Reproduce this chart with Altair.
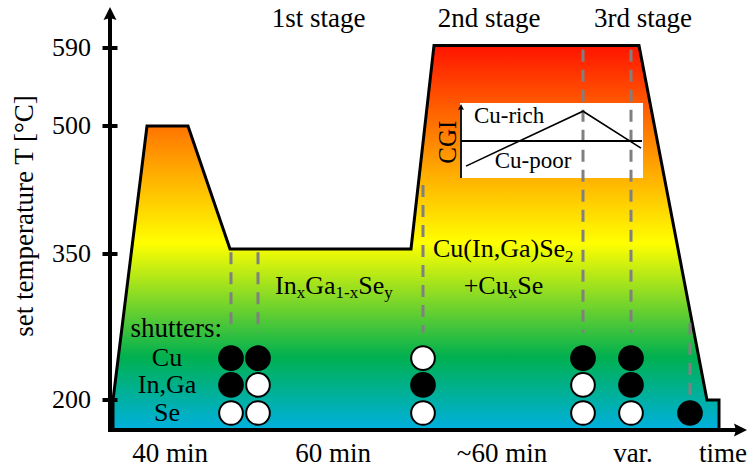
import altair as alt
import pandas as pd

FONT = "Liberation Serif"

# ---------------- data ----------------
# temperature profile (schematic time units, set temperature in °C)
profile_t = [3, 37, 78, 120, 301, 324, 529, 597, 609]
profile_T = [200, 500, 500, 356, 356, 593, 593, 200, 200]
tick_T = [200, 350, 500, 590]
y_title = "set temperature T [°C]"

# shutter switching events (dashed lines)
event_t = [121, 148, 313, 473, 521, 580]
event_top_T = [352, 352, 431, 588, 588, 279]
event_bot_T = [269, 269, 269, 269, 269, 200]

# shutter states per event: 1 = black, 0 = white, None = not drawn
shutter_names = ["Cu", "In,Ga", "Se"]
shutter_row_T = [243, 215.5, 187]
cu_states = [1, 1, 0, 1, 1, None]
inga_states = [1, 0, 1, 0, 1, None]
se_states = [0, 0, 0, 0, 0, 1]

stage_labels = ["1st stage", "2nd stage", "3rd stage"]
stage_t = [208.5, 379, 533]

time_labels = ["40 min", "60 min", "~60 min", "var.", "time"]
time_label_t = [60, 223, 392, 523, 613]

# CGI inset curve
cgi_t = [356, 473, 531]
cgi_T = [453, 517, 474]

# ---------------- scales ----------------
Y_DOMAIN = [170, 200, 350, 500, 590, 645]
Y_RANGE = [430, 400, 254, 126, 48, 0]
yscale = alt.Scale(domain=Y_DOMAIN, range=Y_RANGE, nice=False, zero=False)
xscale = alt.Scale(domain=[0, 637], nice=False, zero=False)


def X(f):
    return alt.X(f, type="quantitative", scale=xscale, axis=None)


def Y(f):
    return alt.Y(f, type="quantitative", scale=yscale, axis=None)


# ---------------- layers ----------------
prof = pd.DataFrame({"t": profile_t, "T": profile_T})
grad = alt.Gradient(
    gradient="linear", x1=0, y1=0, x2=0, y2=1,
    stops=[
        alt.GradientStop(offset=0, color="#ff1400"),
        alt.GradientStop(offset=0.514, color="#ffff00"),
        alt.GradientStop(offset=0.81, color="#00b050"),
        alt.GradientStop(offset=1, color="#00b0e0"),
    ],
)
area = alt.Chart(prof).mark_area(
    fill=grad, stroke="black", strokeWidth=3, opacity=1, strokeJoin="miter"
).encode(x=X("t"), y=Y("T"), y2=alt.datum(170))

inset_box = pd.DataFrame({"t1": [350], "t2": [533], "T1": [439], "T2": [526.5]})
rect = alt.Chart(inset_box).mark_rect(fill="white", stroke=None).encode(
    x=X("t1"), x2="t2", y=Y("T1"), y2="T2"
)

ev = pd.DataFrame({"t": event_t, "top": event_top_T, "bot": event_bot_T})
dashes = alt.Chart(ev).mark_rule(
    stroke="#808080", strokeWidth=3, strokeDash=[12, 8]
).encode(x=X("t"), y=Y("top"), y2="bot")

# inset axes
inset_axes = pd.DataFrame({
    "x1": [351, 351], "x2": [351, 532], "y1": [439, 482.4], "y2": [521.9, 482.4],
    "w": [1.8, 2.2]})
inset_ax = alt.Chart(inset_axes).mark_rule(color="black").encode(
    x=X("x1"), x2="x2", y=Y("y1"), y2="y2",
    strokeWidth=alt.StrokeWidth("w:Q", scale=None))

cgi = pd.DataFrame({"t": cgi_t, "T": cgi_T})
cgi_line = alt.Chart(cgi).mark_line(color="black", strokeWidth=1.6).encode(
    x=X("t"), y=Y("T"))

# main axes lines
frame = pd.DataFrame({"x1": [0, 0], "x2": [630, 0], "y1": [170, 170], "y2": [170, 629]})
axes_lines = alt.Chart(frame).mark_rule(color="black", strokeWidth=4, strokeCap="square").encode(
    x=X("x1"), x2="x2", y=Y("y1"), y2="y2")

ticks_df = pd.DataFrame({"t": [0] * len(tick_T), "T": tick_T, "text": [str(v) for v in tick_T]})
ticks = alt.Chart(ticks_df).mark_tick(
    orient="horizontal", size=15, thickness=4, color="black", opacity=1
).encode(x=X("t"), y=Y("T"))

UP = "M0,-1 L1,1 L0,0.7 L-1,1 Z"
RIGHT = "M1,0 L-1,1 L-0.7,0 L-1,-1 Z"
arrows_df = pd.DataFrame({
    "t": [0, 630.5, 351], "T": [629.5, 170, 521.9],
    "shape": [UP, RIGHT, UP], "s": [169, 169, 36]})
arrows = alt.Chart(arrows_df).mark_point(filled=True, color="black", opacity=1, strokeWidth=0).encode(
    x=X("t"), y=Y("T"),
    shape=alt.Shape("shape:N", scale=None),
    size=alt.Size("s:Q", scale=None))

rows = []
for T_row, states in zip(shutter_row_T, [cu_states, inga_states, se_states]):
    for t, s in zip(event_t, states):
        if s is not None:
            rows.append({"t": t, "T": T_row, "state": "closed" if s == 1 else "open"})
circ = pd.DataFrame(rows)
circles = alt.Chart(circ).mark_point(
    shape="circle", filled=True, size=560, stroke="black", strokeWidth=2, opacity=1
).encode(
    x=X("t"), y=Y("T"),
    fill=alt.Fill("state:N", scale=alt.Scale(domain=["open", "closed"], range=["white", "black"]), legend=None),
)


def text_layer(df, **mk):
    return alt.Chart(df).mark_text(font=FONT, color="black", **mk).encode(
        x=X("t"), y=Y("T"), text="text:N", size=alt.Size("fs:Q", scale=None))


centered = pd.DataFrame(
    [{"text": s, "t": t, "T": 614, "fs": 27} for s, t in zip(stage_labels, stage_t)]
    + [{"text": s, "t": t, "T": 138, "fs": 27} for s, t in zip(time_labels, time_label_t)]
)
t_centered = text_layer(centered, align="center", baseline="alphabetic")

middle = pd.DataFrame(
    [{"text": n, "t": 57, "T": T, "fs": 26} for n, T in zip(shutter_names, shutter_row_T)]
    + [{"text": "Cu-rich", "t": 399, "T": 512, "fs": 23},
       {"text": "Cu-poor", "t": 423, "T": 459, "fs": 23}]
)
t_middle = text_layer(middle, align="center", baseline="middle")

right = pd.DataFrame(
    [{"text": "shutters:", "t": 112, "T": 264.7, "fs": 27}]
)
t_right = text_layer(right, align="right", baseline="alphabetic")

ylabels = pd.DataFrame({"text": [str(v) for v in tick_T], "t": [-19] * len(tick_T),
                        "T": tick_T, "fs": [26] * len(tick_T)})
t_ylabels = text_layer(ylabels, align="right", baseline="middle")

formula = pd.DataFrame([
    {"text": "In", "t": 165, "T": 308.5, "fs": 26},
    {"text": "x", "t": 186.7, "T": 304.5, "fs": 17},
    {"text": "Ga", "t": 195.2, "T": 308.5, "fs": 26},
    {"text": "1-x", "t": 225.5, "T": 304.5, "fs": 17},
    {"text": "Se", "t": 248.2, "T": 308.5, "fs": 26},
    {"text": "y", "t": 274.2, "T": 304.5, "fs": 17},
    {"text": "Cu(In,Ga)Se", "t": 323, "T": 347, "fs": 26},
    {"text": "2", "t": 455.1, "T": 342, "fs": 17},
    {"text": "+Cu", "t": 353.7, "T": 308.5, "fs": 26},
    {"text": "x", "t": 398.7, "T": 304.5, "fs": 17},
    {"text": "Se", "t": 407.2, "T": 308.5, "fs": 26},
])
t_formula = text_layer(formula, align="left", baseline="alphabetic")

rot = pd.DataFrame([
    {"text": "CGI", "t": 337.5, "T": 481, "fs": 25},
    {"text": y_title, "t": -85, "T": 394.5, "fs": 27},
])
t_rot = text_layer(rot, align="center", baseline="middle", angle=270)

chart = alt.layer(
    area, rect, dashes, inset_ax, cgi_line, axes_lines, ticks, arrows, circles,
    t_centered, t_middle, t_right, t_ylabels, t_formula, t_rot,
).properties(
    width=637, height=430,
    padding={"left": 110, "top": 0, "right": 0, "bottom": 38},
    autosize=alt.AutoSizeParams(type="none"),
    background="white",
).configure_view(stroke=None)

chart.save("out.html", embed_options={"renderer": "svg", "actions": False})
